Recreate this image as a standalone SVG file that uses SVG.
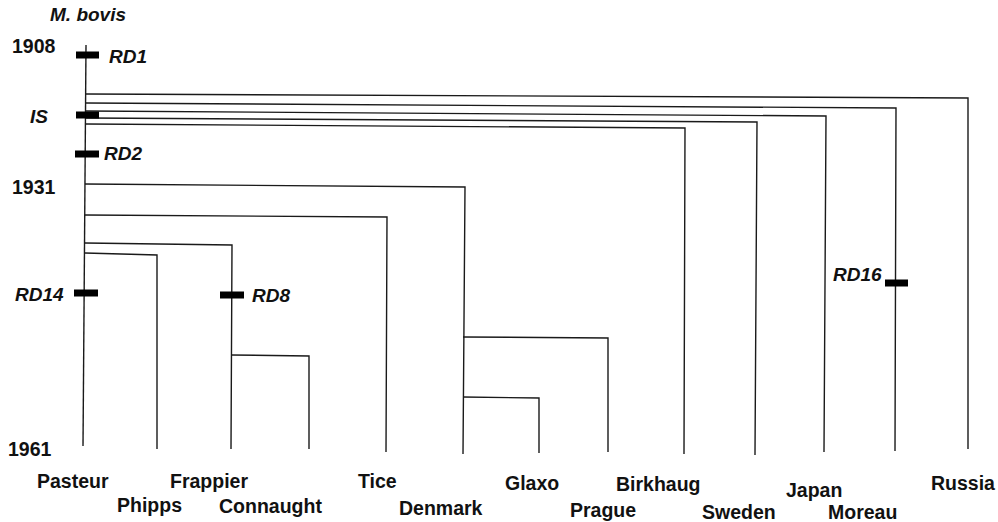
<svg xmlns="http://www.w3.org/2000/svg" width="998" height="522" viewBox="0 0 998 522">
<style>
.ln{fill:none;stroke:#1a1a1a;stroke-width:1.4}
.bar{fill:#000}
text{font-family:"Liberation Sans",Arial,sans-serif;font-weight:bold;fill:#111}
.lbl{font-size:19.5px}
.mk{font-size:19px;font-style:italic}
</style>
<rect width="998" height="522" fill="#fff"/>
<g id="connectors">
<polyline class="ln" points="86,45 83,446"/>
<polyline class="ln" points="86,94 968,98 968,449"/>
<polyline class="ln" points="86,103 896,108 895,451"/>
<polyline class="ln" points="86,111 826,116 824,452"/>
<polyline class="ln" points="86,118 757,122 755,455"/>
<polyline class="ln" points="86,124 685,128 684,454"/>
<polyline class="ln" points="85,184 465,187 463,454"/>
<polyline class="ln" points="85,215 387,217 386,452"/>
<polyline class="ln" points="85,243 232,245 231,449"/>
<polyline class="ln" points="85,253 157,255 157,449"/>
<polyline class="ln" points="463,337 608,338 608,452"/>
<polyline class="ln" points="463,397 539,398 539,453"/>
<polyline class="ln" points="231,355 309,356 309,449"/>
</g>
<g id="markers">
<rect class="bar" x="76" y="51.5" width="23" height="7"/>
<rect class="bar" x="76" y="111.5" width="23" height="7"/>
<rect class="bar" x="75" y="150.5" width="24" height="7"/>
<rect class="bar" x="74" y="289.5" width="24" height="7"/>
<rect class="bar" x="220" y="291.5" width="24" height="7"/>
<rect class="bar" x="885" y="279.5" width="23" height="7"/>
</g>
<g id="axis">
<text class="mk" x="50" y="21">M. bovis</text>
<text class="lbl" x="12" y="53">1908</text>
<text class="mk" x="30" y="123">IS</text>
<text class="lbl" x="12" y="194">1931</text>
<text class="lbl" x="8" y="456">1961</text>
</g>
<g id="mutations">
<text class="mk" x="109" y="63">RD1</text>
<text class="mk" x="104" y="160">RD2</text>
<text class="mk" x="15" y="301">RD14</text>
<text class="mk" x="252" y="302">RD8</text>
<text class="mk" x="833" y="281">RD16</text>
</g>
<g id="node-pasteur"><text class="lbl" x="37" y="488">Pasteur</text></g>
<g id="node-phipps"><text class="lbl" x="117" y="512">Phipps</text></g>
<g id="node-frappier"><text class="lbl" x="170" y="488">Frappier</text></g>
<g id="node-connaught"><text class="lbl" x="219" y="513">Connaught</text></g>
<g id="node-tice"><text class="lbl" x="358" y="488">Tice</text></g>
<g id="node-denmark"><text class="lbl" x="399" y="515">Denmark</text></g>
<g id="node-glaxo"><text class="lbl" x="505" y="490">Glaxo</text></g>
<g id="node-prague"><text class="lbl" x="570" y="517">Prague</text></g>
<g id="node-birkhaug"><text class="lbl" x="616" y="491">Birkhaug</text></g>
<g id="node-sweden"><text class="lbl" x="702" y="519">Sweden</text></g>
<g id="node-japan"><text class="lbl" x="786" y="497">Japan</text></g>
<g id="node-moreau"><text class="lbl" x="828" y="519">Moreau</text></g>
<g id="node-russia"><text class="lbl" x="931" y="490">Russia</text></g>
</svg>
